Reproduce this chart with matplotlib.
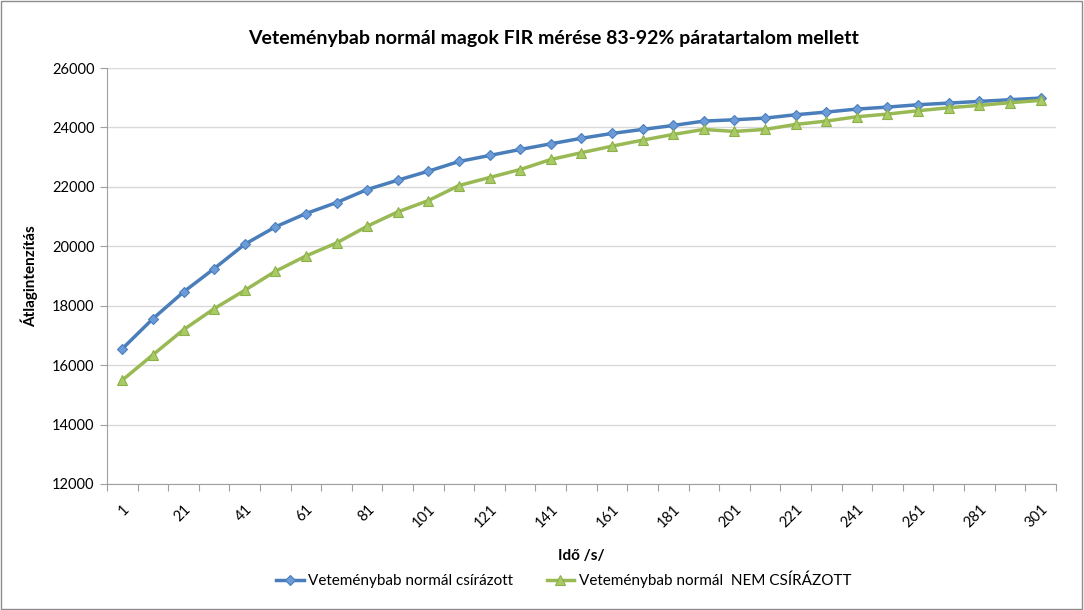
import matplotlib
matplotlib.use('Agg')
import matplotlib.pyplot as plt
import numpy as np

plt.rcParams['font.family'] = ['Lato', 'DejaVu Sans']

# Idő (s) kategóriák
ido = list(range(1, 302, 10))

csirazott = [16551, 17562, 18461, 19248, 20067, 20652, 21101, 21472, 21910, 22225,
             22528, 22854, 23056, 23258, 23449, 23635, 23798, 23933, 24067, 24213,
             24258, 24314, 24427, 24517, 24618, 24685, 24764, 24820, 24876, 24932,
             24989]
nem_csirazott = [15494, 16348, 17191, 17899, 18517, 19158, 19674, 20112, 20674, 21158,
                 21539, 22045, 22315, 22584, 22921, 23150, 23370, 23573, 23764, 23933,
                 23865, 23933, 24101, 24213, 24360, 24449, 24562, 24663, 24742, 24832,
                 24910]

cimkek = ['Veteménybab normál csírázott', 'Veteménybab normál  NEM CSÍRÁZOTT']

fig = plt.figure(figsize=(10.84, 6.10), dpi=100)
ax = fig.add_axes([0.0987, 0.2066, 0.8753, 0.6819])

x = np.arange(len(ido))
ax.plot(x, csirazott, color='#4A7EBB', lw=2.5, marker='D', ms=5.5,
        mfc='#6B9BD8', mec='#4A7EBB', mew=0.8, label=cimkek[0])
ax.plot(x, nem_csirazott, color='#98B954', lw=2.5, marker='^', ms=7,
        mfc='#A9CB66', mec='#8DB04A', mew=0.8, label=cimkek[1])

ax.set_xlim(-0.5, len(ido) - 0.5)
ax.set_ylim(12000, 26000)
ax.set_yticks(range(12000, 26001, 2000))
ax.yaxis.grid(True, color='#D9D9D9', lw=1)
ax.set_axisbelow(True)

# osztásjelek a kategóriahatárokon, címkék minden második kategórián
ax.set_xticks(np.arange(-0.5, len(ido), 1))
ax.set_xticklabels([])
ax.set_xticks(x[::2], minor=True)
ax.set_xticklabels([str(v) for v in ido[::2]], minor=True, rotation=45,
                   ha='right', rotation_mode='anchor', fontsize=10.5)
ax.tick_params(axis='x', which='major', length=5, color='#A0A0A0', direction='out')
ax.tick_params(axis='x', which='minor', length=0, pad=13)
ax.tick_params(axis='y', length=5, color='#A0A0A0', labelsize=10.5, pad=4)

for s in ['top', 'right']:
    ax.spines[s].set_visible(False)
for s in ['left', 'bottom']:
    ax.spines[s].set_color('#A0A0A0')

fig.text(0.511, 0.937, 'Veteménybab normál magok FIR mérése 83-92% páratartalom mellett',
         ha='center', va='center', fontsize=14, fontweight='bold')
ax.set_xlabel('Idő /s/', fontsize=11, fontweight='bold', labelpad=14)
ax.set_ylabel('Átlagintenzítás', fontsize=11, fontweight='bold', labelpad=10)

fig.legend(loc='center', bbox_to_anchor=(0.52, 0.05), ncol=2, frameon=False,
           fontsize=11, handlelength=1.8, handletextpad=0.3, columnspacing=2.2)

fig.patches.append(plt.Rectangle((0.001, 0.002), 0.997, 0.996, transform=fig.transFigure,
                                 fill=False, edgecolor='#8C8C8C', lw=1))

plt.savefig('out.png', dpi=100)
